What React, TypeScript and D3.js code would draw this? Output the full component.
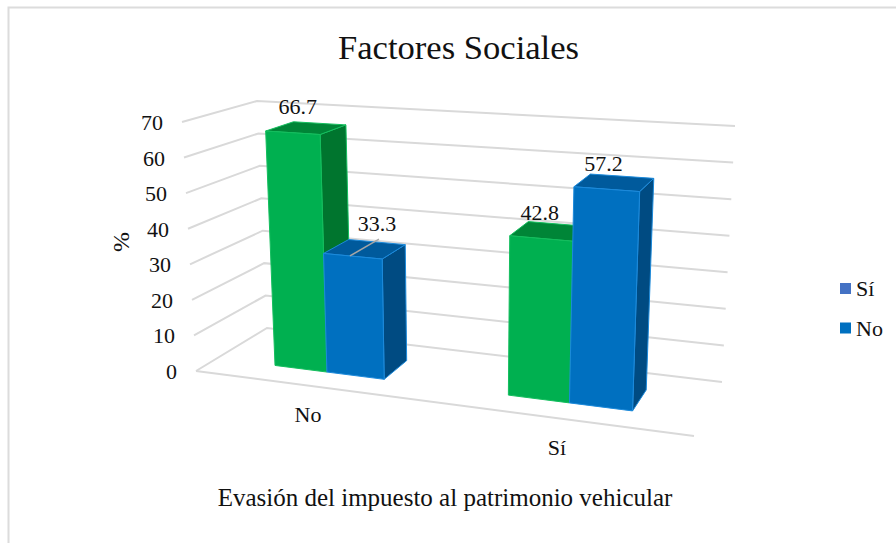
import React from "react";
import * as d3 from "d3";

const categories = ["No", "Sí"];
const seriesSi = [66.7, 42.8];
const seriesNo = [33.3, 57.2];
const yTicks = [0, 10, 20, 30, 40, 50, 60, 70];
const legendItems = ["Sí", "No"];
const chartTitle = "Factores Sociales";
const xTitle = "Evasión del impuesto al patrimonio vehicular";
const yTitle = "%";

type P = [number, number];
// projected corners of the 3D plot box
const frontBL: P = [196, 371], frontBR: P = [694, 436], frontTL: P = [182, 122], frontTR: P = [706, 156];
const backBL: P = [267, 328], backBR: P = [722, 382], backTL: P = [257, 101], backTR: P = [735, 126];

const lerp = (a: P, b: P, t: number): P => [a[0] + (b[0] - a[0]) * t, a[1] + (b[1] - a[1]) * t];
// calibrates the perspective foreshortening along the category axis
const uWarp = d3.scaleLinear()
  .domain([0, 0.125, 0.25, 0.375, 0.625, 0.75, 0.875, 1])
  .range([0, 0.119, 0.226, 0.344, 0.6, 0.726, 0.856, 1]);
const hScale = d3.scaleLinear().domain([0, 70]).range([0, 1]);
const band = d3.scaleBand<string>().domain(categories).range([0, 1]);

function project(u: number, v: number, value: number): P {
  const uu = uWarp(u);
  const h = hScale(value);
  const front = lerp(lerp(frontBL, frontBR, uu), lerp(frontTL, frontTR, uu), h);
  const back = lerp(lerp(backBL, backBR, uu), lerp(backTL, backTR, uu), h);
  return lerp(front, back, v);
}
const pts = (a: P[]) => a.map((p) => p.join(",")).join(" ");

const V0 = 0.3, V1 = 0.7;
const GRID = "#d9d9d9";
const INK = "#111";
const serif = "'Liberation Serif', serif";
const green = { front: "#00B050", top: "#008537", side: "#00752E", edge: "#14BE5E" };
const blue = { front: "#0070C0", top: "#005A9C", side: "#004B82", edge: "#1C8ADB" };

function Bar({ u0, u1, value, c }: { u0: number; u1: number; value: number; c: typeof green }) {
  const f = project;
  return (
    <g stroke={c.edge} strokeWidth={1} strokeLinejoin="round">
      <polygon points={pts([f(u1, V0, 0), f(u1, V1, 0), f(u1, V1, value), f(u1, V0, value)])} fill={c.side} />
      <polygon points={pts([f(u0, V0, value), f(u1, V0, value), f(u1, V1, value), f(u0, V1, value)])} fill={c.top} />
      <polygon points={pts([f(u0, V0, 0), f(u1, V0, 0), f(u1, V0, value), f(u0, V0, value)])} fill={c.front} />
    </g>
  );
}

export default function App() {
  const bw = band.bandwidth();
  const barW = bw / 4;
  const sLeft = (i: number) => band(categories[i])! + barW;
  const sMid = (i: number) => sLeft(i) + barW;
  const sRight = (i: number) => sMid(i) + barW;
  const siOffsets: P[] = [[-22, -9], [-19, -4]];
  const noOffsets: P[] = [[0, -11], [-18.6, -5]];
  const labelAt = (u0: number, u1: number, v: number, d: P): P => {
    const a = project((u0 + u1) / 2, V1, v);
    return [a[0] + d[0], a[1] + d[1]];
  };
  const no = labelAt(sMid(0), sRight(0), seriesNo[0], [0, 0]);
  const labelLeader: [P, P] = [project(sMid(0) + barW * 0.45, V0, seriesNo[0]), [no[0] + 2, no[1] - 3]];
  return (
    <svg
      width={896}
      height={543}
      style={{ position: "absolute", left: 0, top: 0, background: "#fff", fontFamily: serif }}
    >
      <polyline points="8.5,543 8.5,7.5 896,7.5" fill="none" stroke="#dcdcdc" strokeWidth={2} />
      <text x={458.5} y={59} fontSize={34.6} textAnchor="middle" fill={INK}>{chartTitle}</text>

      <g stroke={GRID} strokeWidth={2} fill="none">
        {yTicks.map((t) => {
          const a = project(0, 0, t), b = project(0, 1, t), c = project(1, 1, t);
          return <polyline key={t} points={pts([a, b, c])} />;
        })}
        <line x1={frontBL[0]} y1={frontBL[1]} x2={frontBR[0]} y2={frontBR[1]} />
      </g>

      {yTicks.map((t) => {
        const a = project(0, 0, t);
        return (
          <text key={t} x={a[0] - 19} y={a[1] + 8} fontSize={22} textAnchor="end" fill={INK}>{t}</text>
        );
      })}

      {categories.map((cat, i) => (
        <React.Fragment key={cat}>
          <Bar u0={sLeft(i)} u1={sMid(i)} value={seriesSi[i]} c={green} />
          <Bar u0={sMid(i)} u1={sRight(i)} value={seriesNo[i]} c={blue} />
        </React.Fragment>
      ))}

      <line x1={labelLeader[0][0]} y1={labelLeader[0][1]} x2={labelLeader[1][0]} y2={labelLeader[1][1]} stroke="#a6a6a6" strokeWidth={1.5} />

      {categories.map((cat, i) => {
        const a = labelAt(sLeft(i), sMid(i), seriesSi[i], siOffsets[i]);
        const b = labelAt(sMid(i), sRight(i), seriesNo[i], noOffsets[i]);
        return (
          <React.Fragment key={cat}>
            <text x={a[0]} y={a[1]} fontSize={22} textAnchor="middle" fill={INK}>{seriesSi[i].toFixed(1)}</text>
            <text x={b[0]} y={b[1]} fontSize={22} textAnchor="middle" fill={INK}>{seriesNo[i].toFixed(1)}</text>
          </React.Fragment>
        );
      })}

      {categories.map((cat) => {
        const p = project(band(cat)! + bw / 2, 0, 0);
        return (
          <text key={cat} x={p[0] - 0.5} y={p[1] + 36.5} fontSize={22} textAnchor="middle" fill={INK}>{cat}</text>
        );
      })}

      <text transform="translate(129,242) rotate(-90)" fontSize={24} textAnchor="middle" fill={INK}>{yTitle}</text>
      <text x={445} y={506} fontSize={25} textAnchor="middle" fill={INK}>{xTitle}</text>

      {legendItems.map((item, i) => (
        <g key={item}>
          <rect x={840} y={283 + i * 39.5} width={11} height={11} fill={i === 0 ? "#4472C4" : "#0070C0"} />
          <text x={856} y={296 + i * 40} fontSize={22} fill={INK}>{item}</text>
        </g>
      ))}
    </svg>
  );
}
